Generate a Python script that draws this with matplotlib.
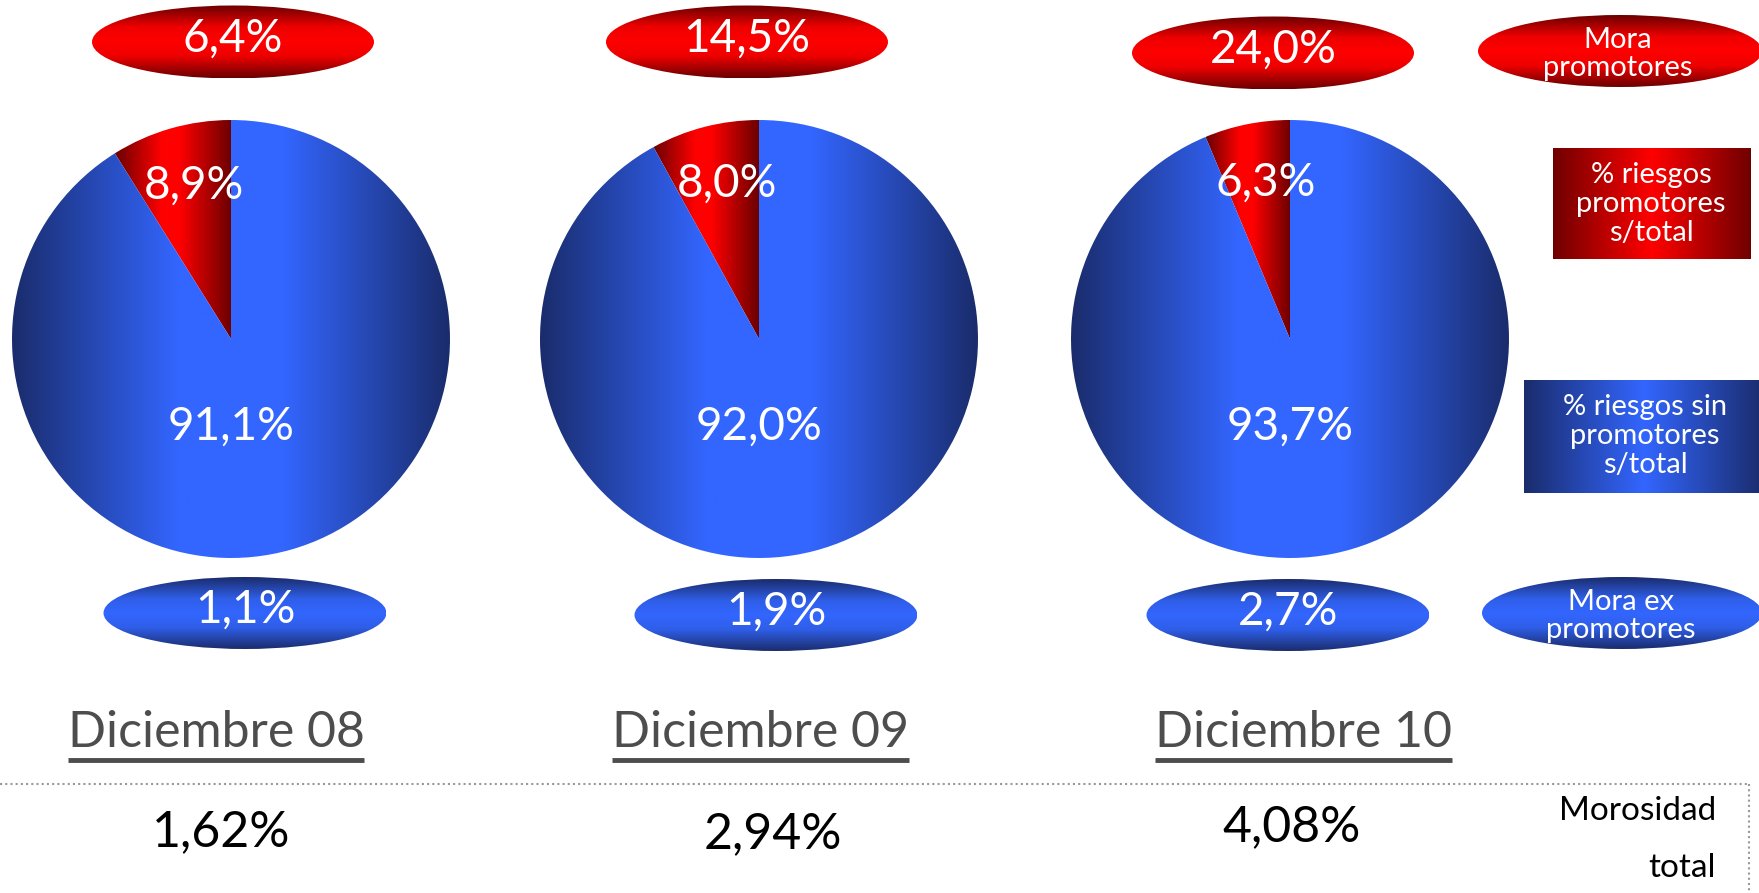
import matplotlib.pyplot as plt
import numpy as np
from matplotlib.colors import LinearSegmentedColormap
from matplotlib.patches import Ellipse, Rectangle

plt.rcParams['font.family'] = ['Lato', 'DejaVu Sans']

# Data
periods = ['Diciembre 08', 'Diciembre 09', 'Diciembre 10']
promotores_share = [8.9, 8.0, 6.3]      # % riesgos promotores s/total
resto_share = [91.1, 92.0, 93.7]        # % riesgos sin promotores s/total
mora_promotores = [6.4, 14.5, 24.0]
mora_ex_promotores = [1.1, 1.9, 2.7]
morosidad_total = [1.62, 2.94, 4.08]


def pct(v, nd=1):
    return f'{v:.{nd}f}'.replace('.', ',') + '%'


W, H = 1759, 893
fig = plt.figure(figsize=(W / 100, H / 100), dpi=100)
ax = fig.add_axes([0, 0, 1, 1])

# gradients (dark - bright - dark)
blue_h = LinearSegmentedColormap.from_list('bh', [(0, '#1a2c6c'), (0.38, '#3366ff'), (0.62, '#3366ff'), (1, '#1a2c6c')])
red_h = LinearSegmentedColormap.from_list('rh', [(0, '#6a0000'), (0.4, '#ff0000'), (0.55, '#ff0000'), (1, '#6a0000')])
red_v = LinearSegmentedColormap.from_list('rv', [(0, '#6a0000'), (0.3, '#ee0000'), (0.5, '#ff0000'), (0.7, '#ee0000'), (1, '#6a0000')])
blue_v = LinearSegmentedColormap.from_list('bv', [(0, '#1a2c6c'), (0.3, '#2f5ee8'), (0.5, '#3366ff'), (0.7, '#2f5ee8'), (1, '#1a2c6c')])
red_box = LinearSegmentedColormap.from_list('rb', [(0, '#700000'), (0.5, '#ff0000'), (1, '#700000')])
blue_box = LinearSegmentedColormap.from_list('bb', [(0, '#1a2c6c'), (0.5, '#3366ff'), (1, '#1a2c6c')])


def gradient_fill(patch, cmap, horizontal=True):
    ext = patch.get_path().get_extents(patch.get_patch_transform())
    g = np.linspace(0, 1, 256)
    img = g[None, :] if horizontal else g[:, None]
    im = ax.imshow(img, cmap=cmap, extent=(ext.x0, ext.x1, ext.y0, ext.y1),
                   aspect='auto', interpolation='bilinear', origin='lower',
                   zorder=patch.get_zorder())
    im.set_clip_path(patch)
    patch.set_facecolor('none')
    patch.set_edgecolor('none')


def label(x, y, s, size, color='white', **kw):
    return ax.text(x, H - y, s, fontsize=size, color=color, ha='center', va='center', **kw)


pie_cx = [231, 759, 1290]
pie_cy = 339
pie_r = 219
top_x = [233, 747, 1273]
top_y = [42, 42, 53]
bot_x = [245, 776, 1288]
bot_y = [613, 615, 615]
title_x = [216, 761, 1304]
total_x = [221, 773, 1292]
total_y = [832, 834, 827]

titles = []
for i in range(3):
    cx, cy = pie_cx[i], H - pie_cy
    wedges, _ = ax.pie([promotores_share[i], resto_share[i]], center=(cx, cy), radius=pie_r,
                       startangle=90, counterclock=True, wedgeprops=dict(linewidth=0))
    gradient_fill(wedges[0], red_h)
    gradient_fill(wedges[1], blue_h)

    w = wedges[0]
    mid = np.deg2rad((w.theta1 + w.theta2) / 2)
    ax.text(cx + 0.74 * pie_r * np.cos(mid) + 8, cy + 0.73 * pie_r * np.sin(mid), pct(promotores_share[i]),
            fontsize=33, color='white', ha='center', va='center')
    ax.text(cx, cy - 0.4 * pie_r, pct(resto_share[i]), fontsize=33, color='white', ha='center', va='center')

    e = Ellipse((top_x[i], H - top_y[i]), 282, 73)
    ax.add_patch(e)
    gradient_fill(e, red_v, horizontal=False)
    label(top_x[i], top_y[i] - 3, pct(mora_promotores[i]), 33)

    e = Ellipse((bot_x[i], H - bot_y[i]), 283, 72)
    ax.add_patch(e)
    gradient_fill(e, blue_v, horizontal=False)
    label(bot_x[i], bot_y[i] - 3, pct(mora_ex_promotores[i]), 33)

    titles.append(label(title_x[i], 733, periods[i], 36, color='#4d4d4d'))
    label(total_x[i], total_y[i], pct(morosidad_total[i], 2), 36, color='black')

# legend shapes
e = Ellipse((1620, H - 51), 284, 72)
ax.add_patch(e)
gradient_fill(e, red_v, horizontal=False)
label(1618, 54, 'Mora\npromotores', 21, linespacing=1.12)

r = Rectangle((1553, H - 259), 198, 111)
ax.add_patch(r)
gradient_fill(r, red_box)
label(1651, 204, '% riesgos\npromotores\ns/total', 21, linespacing=1.12)

r = Rectangle((1524, H - 493), 240, 113)
ax.add_patch(r)
gradient_fill(r, blue_box)
label(1645, 436, '% riesgos sin\npromotores\ns/total', 21, linespacing=1.12)

e = Ellipse((1622, H - 613), 280, 72)
ax.add_patch(e)
gradient_fill(e, blue_v, horizontal=False)
label(1621, 616, 'Mora ex\npromotores', 21, linespacing=1.12)

ax.text(1716, H - 811, 'Morosidad', fontsize=24, ha='right', va='center', color='black')
ax.text(1716, H - 868, 'total', fontsize=24, ha='right', va='center', color='black')

# dotted separators
ax.plot([0, 1749], [H - 784, H - 784], ls=(0, (1, 1.5)), color='#999999', lw=1.5)
ax.plot([1749, 1749], [H - 784, 0], ls=(0, (1, 1.5)), color='#999999', lw=1.5)

ax.set_xlim(0, W)
ax.set_ylim(0, H)
ax.axis('off')

# underline the period titles
fig.canvas.draw()
for t in titles:
    bb = t.get_window_extent()
    ax.plot([bb.x0, bb.x1], [H - 760, H - 760], color='#4d4d4d', lw=3.5, solid_capstyle='butt')

ax.set_xlim(0, W)
ax.set_ylim(0, H)
fig.savefig('out.png', dpi=100)
